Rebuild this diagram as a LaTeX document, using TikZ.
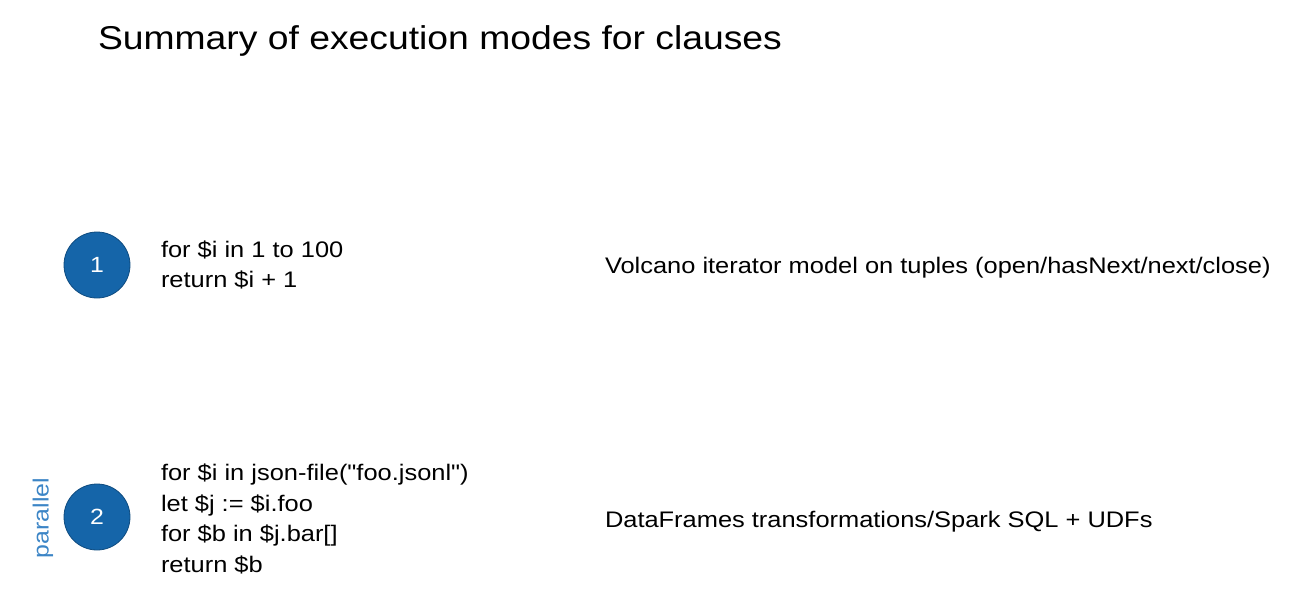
\documentclass[tikz,border=0pt]{standalone}
\usepackage{fontspec}
\setmainfont{Liberation Sans}[FakeStretch=1.13, Ligatures=TeXOff]
\usepackage{tikz}
\usetikzlibrary{positioning}
\definecolor{stepblue}{HTML}{1565A9}
\definecolor{stepedge}{HTML}{0F4C80}
\definecolor{tagblue}{HTML}{3C85C6}
\tikzset{
	every node/.style={inner sep=0pt, outer sep=0pt},
	stepdot/.style={circle, minimum size=66pt, fill=stepblue, draw=stepedge, line width=0.8pt, text=white, font=\fontsize{22}{26}\selectfont},
	query/.style={anchor=west, align=left, font=\fontsize{22.5}{30.5}\selectfont},
	mode/.style={anchor=base west, font=\fontsize{22.5}{27}\selectfont}
}

\begin{document}
\begin{tikzpicture}[x=1pt,y=-1pt]
\useasboundingbox (0,0) rectangle (1311,605);
\node (title) [anchor=base west, font=\fontsize{33}{40}\selectfont] at (98,49) {Summary of execution modes for clauses};
% clause 1
\node (one) [stepdot] at (97,265) {1};
\node (q1) [query] at (161,265) {for \$i in 1 to 100\\return \$i + 1};
\node (m1) [mode] at (605,273) {Volcano iterator model on tuples (open/hasNext/next/close)};
% clause 2
\node (two) [stepdot] at (97,517) {2};
\node (par) [rotate=90, text=tagblue, font=\fontsize{22}{26}\selectfont] at (43,518) {parallel};
\node (q2) [query] at (161,519) {for \$i in json-file("foo.jsonl")\\let \$j := \$i.foo\\for \$b in \$j.bar[]\\return \$b};
\node (m2) [mode] at (605,527) {DataFrames transformations/Spark SQL + UDFs};
\end{tikzpicture}
\end{document}
